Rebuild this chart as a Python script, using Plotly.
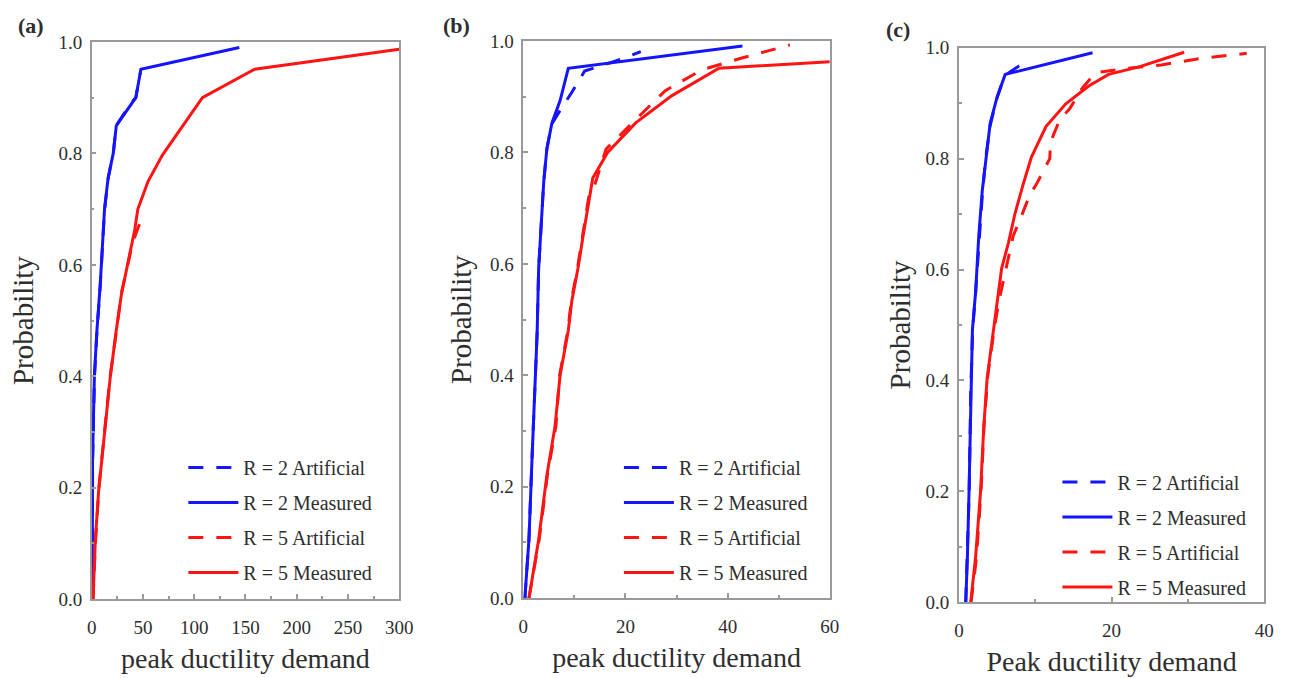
import plotly.graph_objects as go

# ---------------- data ----------------
# Panel (a)
a_r2_meas_x = [0.5, 0.8, 2.6, 5.0, 8.3, 12.5, 16.0, 21.0, 24.0, 38.5, 43.0, 48.0, 144.0]
a_r2_meas_y = [0.0, 0.25, 0.40, 0.48, 0.565, 0.70, 0.756, 0.80, 0.85, 0.89, 0.90, 0.951, 0.99]
a_r2_art_x = [0.5, 0.9, 2.7, 5.1, 8.4, 12.6, 16.1, 21.0, 24.0, 38.0, 43.0, 47.5]
a_r2_art_y = [0.0, 0.25, 0.40, 0.48, 0.565, 0.70, 0.756, 0.80, 0.85, 0.89, 0.90, 0.945]
a_r5_meas_x = [1.3, 3.5, 6.7, 13.0, 18.0, 24.0, 29.0, 42.0, 45.0, 55.0, 69.0, 108.0, 159.0, 300.0]
a_r5_meas_y = [0.0, 0.106, 0.193, 0.31, 0.397, 0.483, 0.547, 0.663, 0.70, 0.75, 0.797, 0.90, 0.951, 0.987]
a_r5_art_x = [1.3, 3.6, 7.0, 13.0, 18.0, 24.0, 29.0, 40.0, 46.0, 51.5]
a_r5_art_y = [0.0, 0.10, 0.20, 0.31, 0.40, 0.48, 0.55, 0.64, 0.67, 0.69]

# Panel (b)
b_r2_meas_x = [0.3, 1.1, 1.7, 2.4, 2.7, 3.0, 3.7, 4.0, 4.6, 5.6, 7.2, 8.8, 42.9]
b_r2_meas_y = [0.0, 0.105, 0.25, 0.40, 0.476, 0.592, 0.702, 0.748, 0.806, 0.853, 0.893, 0.951, 0.991]
b_r2_art_x = [0.3, 1.1, 1.7, 2.4, 2.7, 3.0, 3.7, 4.0, 4.6, 5.5, 7.5, 9.5, 12.0, 19.7, 23.0]
b_r2_art_y = [0.0, 0.105, 0.25, 0.40, 0.476, 0.592, 0.702, 0.748, 0.806, 0.85, 0.88, 0.908, 0.946, 0.969, 0.981]
b_r5_meas_x = [1.1, 3.0, 4.6, 6.2, 7.2, 8.8, 9.5, 10.7, 11.7, 13.0, 13.6, 16.5, 22.0, 29.1, 38.3, 60.0]
b_r5_meas_y = [0.0, 0.105, 0.22, 0.308, 0.40, 0.48, 0.534, 0.592, 0.65, 0.725, 0.754, 0.80, 0.853, 0.902, 0.951, 0.963]
b_r5_art_x = [1.1, 3.1, 4.7, 6.4, 7.1, 8.7, 9.4, 10.6, 11.6, 12.8, 13.6, 16.2, 22.0, 27.8, 34.9, 42.6, 52.2]
b_r5_art_y = [0.0, 0.105, 0.22, 0.31, 0.40, 0.48, 0.534, 0.592, 0.65, 0.72, 0.731, 0.806, 0.859, 0.911, 0.948, 0.969, 0.993]

# Panel (c)
c_r2_meas_x = [0.9, 1.12, 1.33, 1.55, 1.77, 2.2, 2.6, 3.06, 3.5, 4.1, 5.0, 6.06, 17.5]
c_r2_meas_y = [0.0, 0.083, 0.20, 0.375, 0.491, 0.561, 0.66, 0.742, 0.794, 0.864, 0.911, 0.952, 0.991]
c_r2_art_x = [0.9, 1.1, 1.35, 1.55, 1.8, 2.2, 2.7, 3.1, 3.5, 4.1, 5.0, 6.0, 8.4]
c_r2_art_y = [0.0, 0.08, 0.20, 0.38, 0.49, 0.56, 0.66, 0.74, 0.80, 0.86, 0.91, 0.95, 0.972]
c_r5_meas_x = [1.55, 2.2, 2.84, 3.26, 3.7, 4.55, 5.0, 5.6, 6.5, 7.35, 8.4, 9.5, 11.4, 14.0, 17.0, 19.6, 23.7, 29.5]
c_r5_meas_y = [0.0, 0.083, 0.20, 0.316, 0.404, 0.491, 0.544, 0.602, 0.649, 0.701, 0.753, 0.803, 0.858, 0.899, 0.931, 0.952, 0.966, 0.992]
c_r5_art_x = [1.6, 2.3, 2.9, 3.3, 3.8, 4.6, 5.2, 6.3, 7.1, 8.0, 9.3, 10.2, 11.9, 12.0, 13.2, 14.5, 16.2, 17.9, 22.0, 26.5, 31.7, 37.7]
c_r5_art_y = [0.0, 0.08, 0.20, 0.32, 0.41, 0.49, 0.54, 0.61, 0.66, 0.69, 0.735, 0.755, 0.80, 0.83, 0.87, 0.89, 0.928, 0.955, 0.963, 0.969, 0.981, 0.99]

legend_names = ["R = 2 Artificial", "R = 2 Measured", "R = 5 Artificial", "R = 5 Measured"]
panel_labels = ["(a)", "(b)", "(c)"]
x_titles = ["peak ductility demand", "peak ductility demand", "Peak ductility demand"]
y_title = "Probability"
x_ranges = [[0, 300], [0, 60], [0, 40]]
x_dticks = [50, 20, 20]
x_minor = [25, 10, 10]

panels = [
    [(a_r2_art_x, a_r2_art_y), (a_r2_meas_x, a_r2_meas_y), (a_r5_art_x, a_r5_art_y), (a_r5_meas_x, a_r5_meas_y)],
    [(b_r2_art_x, b_r2_art_y), (b_r2_meas_x, b_r2_meas_y), (b_r5_art_x, b_r5_art_y), (b_r5_meas_x, b_r5_meas_y)],
    [(c_r2_art_x, c_r2_art_y), (c_r2_meas_x, c_r2_meas_y), (c_r5_art_x, c_r5_art_y), (c_r5_meas_x, c_r5_meas_y)],
]

# ---------------- styling / layout ----------------
W, H = 1303, 678
BLUE = "#1414ff"
RED = "#ff1414"
colors = [BLUE, BLUE, RED, RED]
dashes = ["15px,13px", "solid", "15px,13px", "solid"]
FONT = "Liberation Serif"
AXC = "#9a9a9a"
TXT = "#2e2e2e"

# plot boxes in pixels (left, top, right, bottom)
boxes = [(88, 33, 400, 608), (526, 32, 837, 607), (968, 39, 1278, 611)]
legend_pos = [(181, 452), (623, 452), (1068, 467)]
label_pos = [(11, 16), (442, 16), (892, 20)]
ytitle_standoff = [16, 10, 6]

fig = go.Figure()
layout = dict(
    width=W, height=H,
    margin=dict(l=0, r=0, t=0, b=0),
    paper_bgcolor="white", plot_bgcolor="white",
    font=dict(family=FONT, color=TXT, size=18),
    annotations=[],
)

for i, series in enumerate(panels):
    sfx = "" if i == 0 else str(i + 1)
    leg = "legend" if i == 0 else f"legend{i + 1}"
    for j, (xs, ys) in enumerate(series):
        fig.add_trace(go.Scatter(
            x=xs, y=ys, mode="lines", name=legend_names[j],
            line=dict(color=colors[j], width=3, dash=dashes[j]),
            xaxis="x" + sfx, yaxis="y" + sfx,
            legend=leg, legendgroup=f"g{i}{j}",
        ))
    l, t, r, b = boxes[i]
    common = dict(
        showline=True, linecolor=AXC, linewidth=1.5, mirror=True,
        ticks="inside", ticklen=5, tickcolor=AXC, tickwidth=1.5,
        showgrid=False, zeroline=False,
        tickfont=dict(family=FONT, size=19, color=TXT),
    )
    layout["xaxis" + sfx] = dict(
        common, domain=[l / W, r / W], anchor="y" + sfx,
        range=x_ranges[i], dtick=x_dticks[i], tick0=0,
        ticklabelstandoff=10,
        minor=dict(dtick=x_minor[i], ticks="inside", ticklen=3, tickcolor=AXC),
        title=dict(text=x_titles[i], font=dict(family=FONT, size=28, color=TXT), standoff=12),
    )
    layout["yaxis" + sfx] = dict(
        common, domain=[1 - b / H, 1 - t / H], anchor="x" + sfx,
        range=[0, 1.0], dtick=0.2, tick0=0, tickformat=".1f",
        ticklabelstandoff=4,
        minor=dict(dtick=0.1, ticks="inside", ticklen=3, tickcolor=AXC),
        title=dict(text=y_title, font=dict(family=FONT, size=29, color=TXT), standoff=ytitle_standoff[i]),
    )
    lx, ly = legend_pos[i]
    layout[leg] = dict(
        x=lx / W, y=1 - ly / H, xanchor="left", yanchor="top",
        bgcolor="rgba(0,0,0,0)", borderwidth=0,
        font=dict(family=FONT, size=20, color=TXT),
        tracegroupgap=6, itemwidth=50,
    )
    px, py = label_pos[i]
    layout["annotations"].append(dict(
        text="<b>" + panel_labels[i] + "</b>", x=px / W, y=1 - py / H, xref="paper", yref="paper",
        xanchor="left", yanchor="middle", showarrow=False,
        font=dict(family=FONT, size=22, color=TXT),
    ))

fig.update_layout(**layout)
fig.write_html("out.html")
